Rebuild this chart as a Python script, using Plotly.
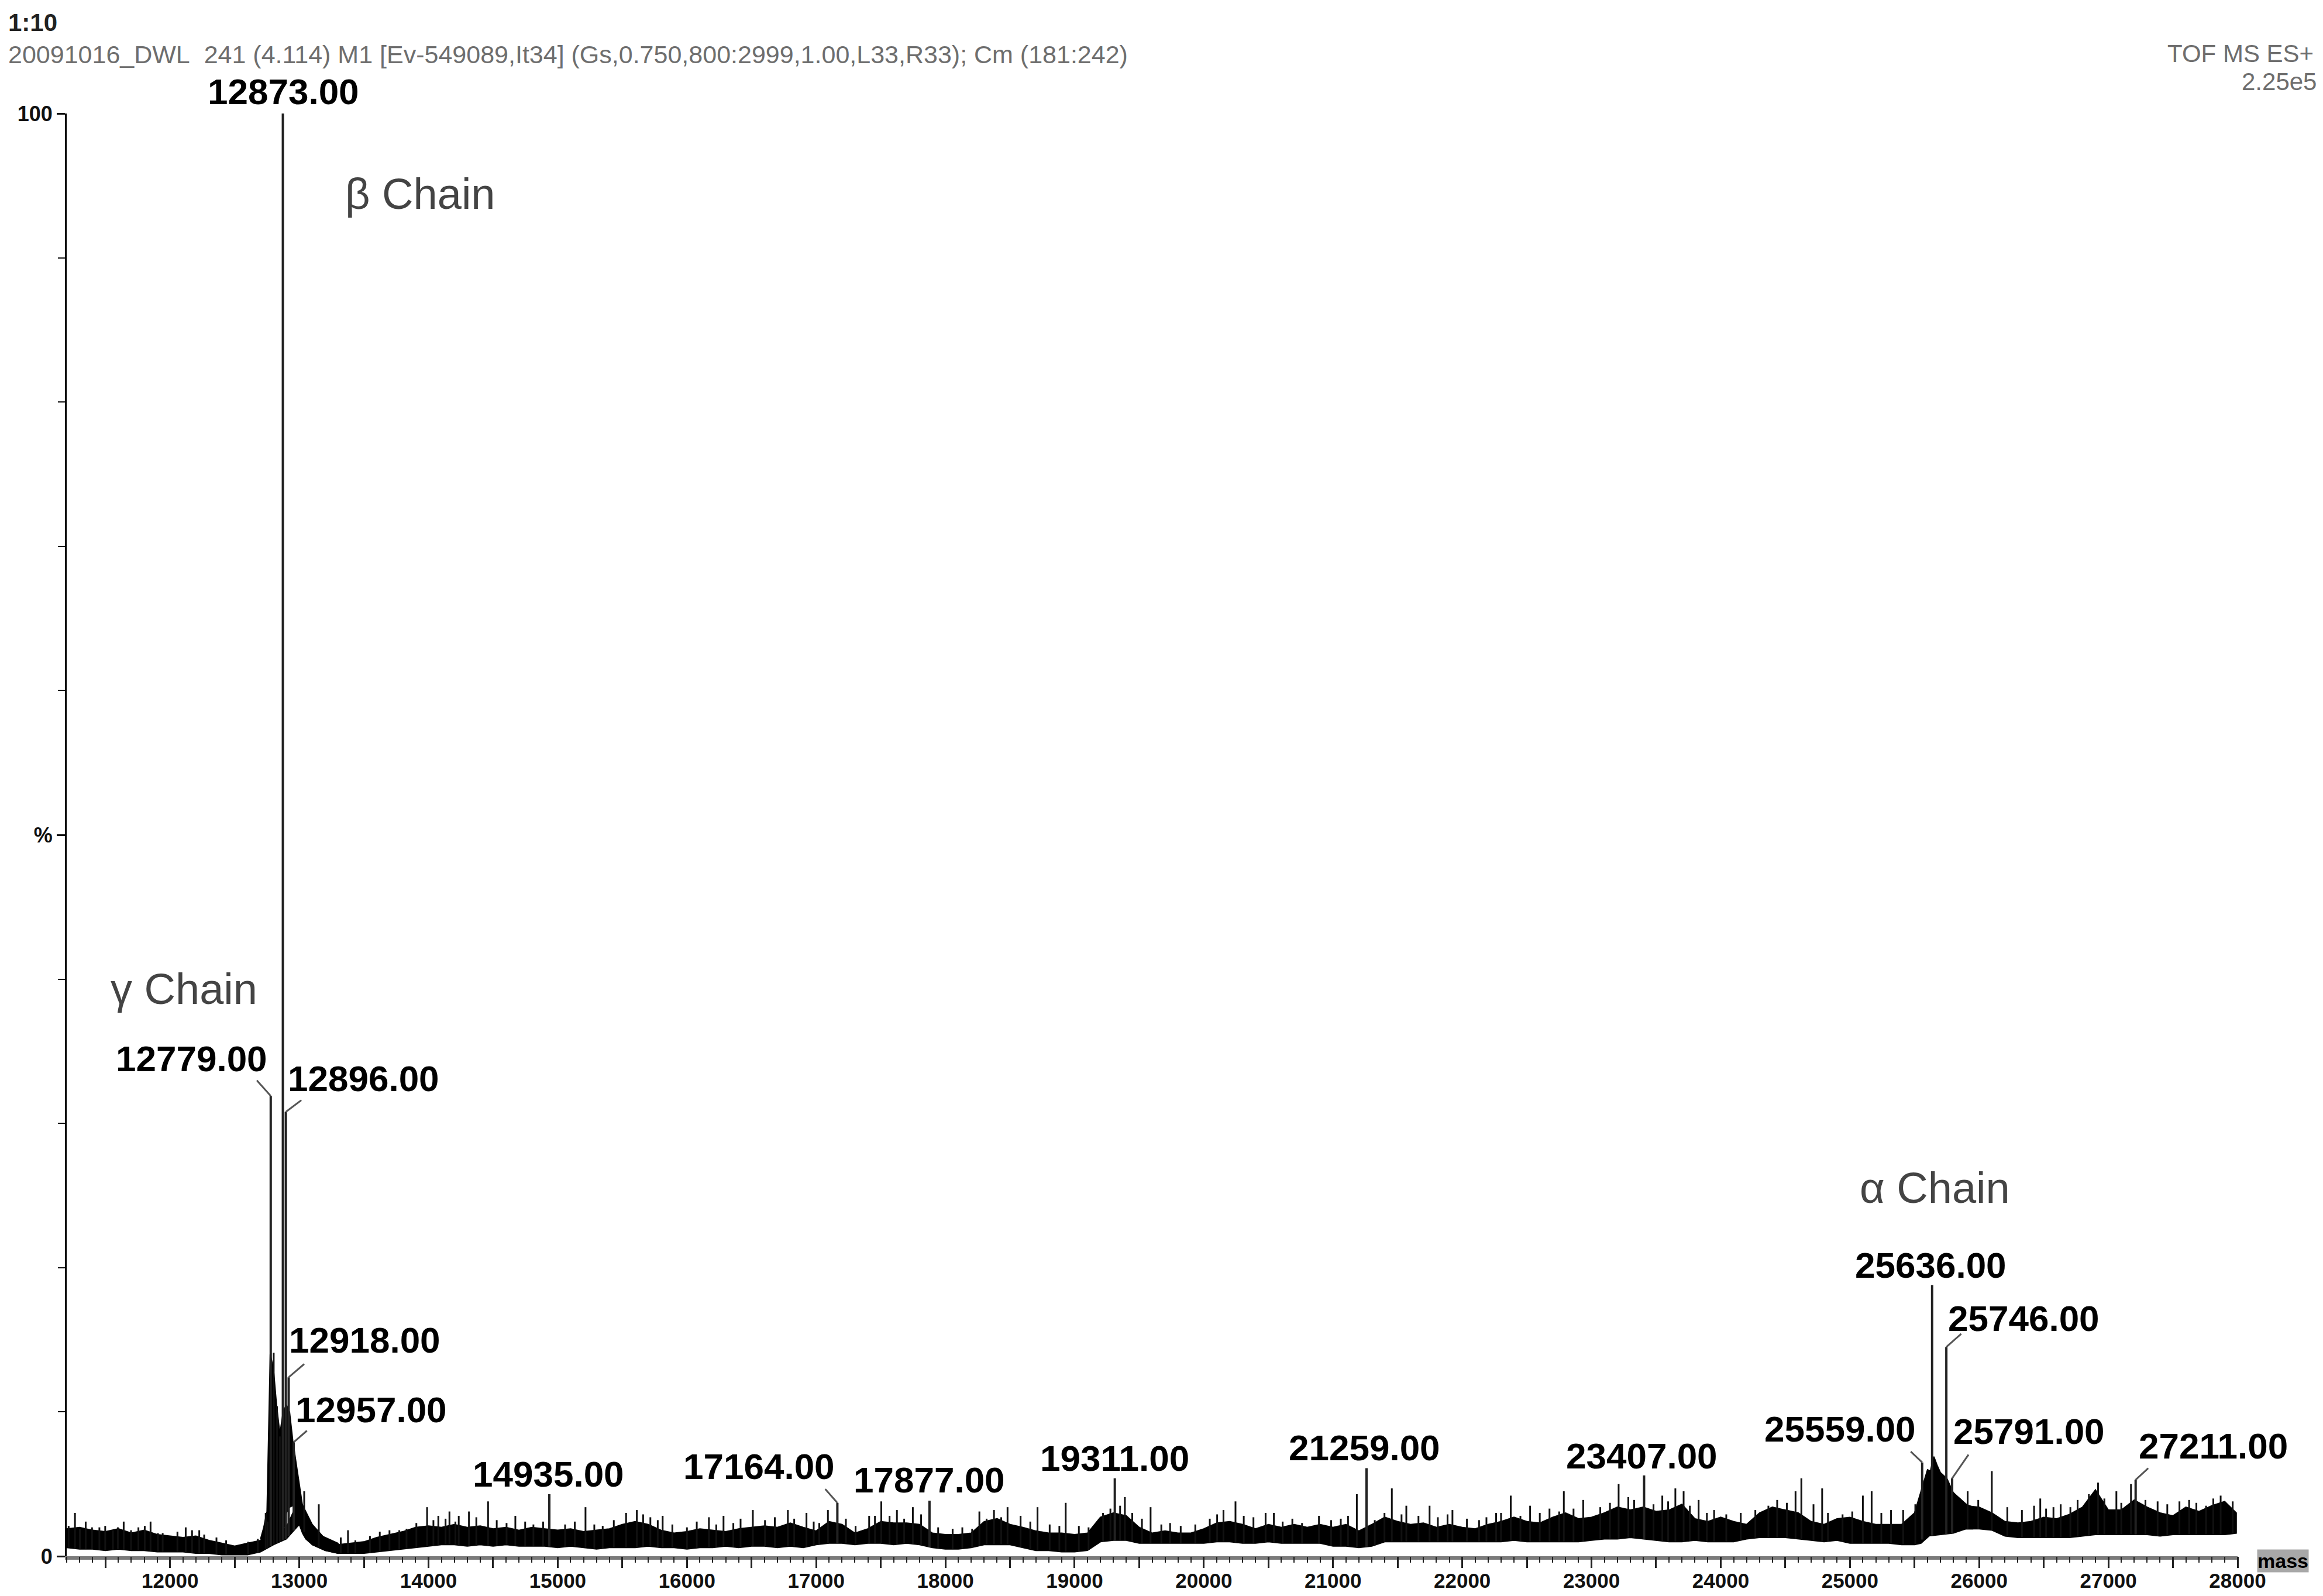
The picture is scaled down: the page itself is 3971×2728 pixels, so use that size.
import numpy as np
import plotly.graph_objects as go

# ---------------- data (relative intensity, %) ----------------
# baseline noise envelope sampled every 100 Da (upper / lower edge of the noise band)
grid_mz = list(range(11200, 28000, 100)) + [27990]
noise_hi = [
    1.9, 2.0, 1.8, 1.7, 1.9, 1.6, 1.8, 1.5,
    1.4, 1.3, 1.4, 1.1, 0.9, 0.7, 0.9, 1.1, 1.5, 2.0,
    4.0, 2.2, 1.2, 0.8, 0.9, 1.0, 1.3, 1.5, 1.7, 2.0,
    2.1, 2.0, 2.2, 2.0, 2.1, 1.9, 2.0, 1.8, 2.0, 1.9,
    1.8, 1.9, 1.7, 1.8, 1.9, 2.2, 2.4, 2.2, 1.8, 1.6,
    1.7, 1.9, 1.8, 1.7, 1.9, 2.0, 2.1, 2.0, 2.3, 2.0,
    1.75, 2.4, 2.2, 1.6, 1.9, 2.4, 2.3, 2.3, 2.2, 1.6,
    1.5, 1.5, 1.6, 2.4, 2.6, 2.2, 2.0, 1.75, 1.6, 1.6,
    1.5, 1.6, 2.7, 3.0, 2.8, 2.0, 1.6, 1.75, 1.6, 1.6,
    1.9, 2.3, 2.4, 2.2, 1.9, 2.2, 2.0, 2.2, 2.0, 2.2,
    2.0, 2.2, 1.75, 2.2, 2.7, 2.4, 2.2, 2.3, 2.0, 2.2,
    2.0, 1.9, 2.2, 2.4, 2.7, 2.4, 2.3, 2.7, 3.0, 2.6,
    2.7, 3.0, 3.4, 3.2, 3.4, 3.1, 3.2, 3.6, 2.6, 2.4,
    2.7, 2.4, 2.2, 3.0, 3.4, 3.2, 3.0, 2.4, 2.2, 2.6,
    2.7, 2.4, 2.2, 2.2, 2.2, 3.0, 6.0, 5.6, 4.4, 3.5,
    3.4, 3.0, 2.4, 2.3, 2.4, 2.7, 2.6, 2.9, 3.4, 4.6,
    3.2, 3.2, 3.9, 3.4, 3.0, 2.8, 3.4, 3.1, 3.5, 3.8,
    3.0,
]
noise_lo = [
    0.6, 0.5, 0.5, 0.4, 0.5, 0.4, 0.4, 0.3,
    0.3, 0.3, 0.2, 0.2, 0.1, 0.1, 0.1, 0.3, 0.8, 1.2,
    2.2, 0.8, 0.4, 0.2, 0.2, 0.2, 0.3, 0.4, 0.5, 0.6,
    0.7, 0.8, 0.8, 0.7, 0.8, 0.7, 0.8, 0.7, 0.7, 0.7,
    0.6, 0.7, 0.6, 0.5, 0.6, 0.6, 0.6, 0.7, 0.6, 0.6,
    0.5, 0.6, 0.6, 0.7, 0.6, 0.7, 0.7, 0.6, 0.7, 0.6,
    0.8, 0.9, 0.9, 0.8, 0.9, 0.9, 0.8, 0.9, 0.8, 0.6,
    0.5, 0.5, 0.6, 0.8, 0.8, 0.8, 0.6, 0.4, 0.4, 0.3,
    0.3, 0.4, 1.0, 1.1, 1.1, 0.9, 0.9, 0.9, 0.9, 0.9,
    0.9, 1.0, 1.0, 0.9, 0.9, 1.0, 0.9, 0.9, 0.9, 0.9,
    0.7, 0.7, 0.6, 0.7, 1.0, 1.0, 1.0, 1.0, 1.0, 1.0,
    1.0, 1.0, 1.0, 1.0, 1.1, 1.0, 1.0, 1.0, 1.0, 1.0,
    1.1, 1.2, 1.2, 1.3, 1.2, 1.1, 1.0, 1.0, 1.1, 1.0,
    1.0, 1.0, 1.2, 1.3, 1.3, 1.3, 1.2, 1.1, 1.0, 1.1,
    0.9, 0.9, 0.9, 0.9, 0.8, 0.8, 1.4, 1.5, 1.6, 1.9,
    1.9, 1.8, 1.4, 1.3, 1.3, 1.3, 1.3, 1.3, 1.4, 1.5,
    1.5, 1.5, 1.5, 1.5, 1.4, 1.5, 1.5, 1.5, 1.5, 1.5,
    1.6,
]

# beta / gamma chain cluster envelope
beta_mz = [12700, 12725, 12750, 12765, 12775, 12800, 12825, 12850, 12875, 12900, 12925,
           12950, 12975, 13000, 13025, 13050, 13075, 13100, 13150, 13200, 13250, 13300]
beta_hi = [1.2, 2.0, 3.1, 9.0, 14.0, 13.0, 10.4, 8.5, 10.0, 10.5, 10.0,
           8.0, 6.5, 4.9, 3.5, 2.6, 2.2, 2.0, 1.5, 1.3, 1.1, 0.9]
beta_lo = [0.3, 0.5, 0.8, 1.0, 1.2, 1.3, 1.5, 1.3, 1.5, 3.0, 3.4,
           3.5, 3.0, 2.2, 1.6, 1.2, 1.0, 0.8, 0.6, 0.4, 0.3, 0.2]

# alpha chain cluster envelope
alpha_mz = [25500, 25550, 25575, 25600, 25625, 25650, 25675, 25700, 25725, 25750,
            25775, 25800, 25850, 25900, 25950]
alpha_hi = [3.0, 3.7, 4.5, 5.5, 6.0, 6.9, 6.3, 5.8, 5.6, 5.4, 4.9, 4.4, 4.0, 3.6, 3.4]
alpha_lo = [0.8, 0.9, 1.1, 1.3, 1.5, 1.6, 1.6, 1.5, 1.6, 1.7, 1.8, 1.9, 1.9, 1.9, 1.9]

# prominent isolated noise spikes
spike_mz = [11264, 11347, 11498, 11641, 11755, 11849, 12121, 12226, 12740, 12755, 12802, 12828, 12850,
            13038, 13151, 13377, 13623, 13830, 13989, 14076, 14162, 14234, 14313, 14461,
            14672, 14748, 15215, 15348, 15529, 15612, 15717, 15812, 16170, 16283, 16510,
            16781, 16925, 17091, 17410, 17504, 17625, 17748, 18263, 18376, 18481, 18713,
            18931, 19389, 19588, 19739, 20152, 20245, 20478, 20542, 20891, 21184, 21455,
            21567, 21747, 21924, 22262, 22375, 22525, 22786, 22936, 23210, 23285, 23548,
            23649, 23713, 23829, 23949, 24369, 24579, 24624, 24785, 25100, 25168, 25412,
            25911, 26098, 26218, 26473, 26575, 26849, 26920, 27062, 27175, 27381, 27625,
            27756, 27869]
spike_int = [3.0, 2.4, 2.1, 2.4, 2.0, 2.4, 2.0, 1.8, 3.0, 2.4, 14.1, 10.4, 8.3,
             4.5, 3.6, 1.8, 1.7, 1.9, 3.4, 2.8, 3.1, 2.8, 3.1, 3.8,
             2.8, 2.4, 3.4, 2.1, 3.0, 3.2, 2.7, 2.8, 2.7, 2.8, 3.2,
             3.2, 3.0, 3.2, 2.8, 3.8, 3.2, 3.4, 3.1, 3.2, 3.4, 3.4,
             3.7, 4.1, 3.4, 2.3, 3.2, 3.8, 3.0, 3.0, 2.8, 4.3, 4.7,
             3.5, 3.5, 3.2, 3.0, 4.2, 3.5, 4.5, 3.9, 5.0, 4.1, 4.2,
             4.7, 4.5, 3.9, 3.2, 3.5, 4.5, 5.4, 4.7, 4.2, 4.5, 3.2,
             4.5, 5.9, 3.4, 4.0, 3.4, 4.3, 5.1, 4.5, 5.0, 3.8, 3.9,
             3.5, 4.2]

# smaller noise spikes riding on the band
minor_mz = [11215, 11302, 11396, 11453, 11558, 11596, 11698, 11804, 11906, 11943, 12057,
            12170, 12264, 12359, 12434, 12604, 12679,
            13321, 13434, 13547, 13698, 13774, 13906, 14038, 14132, 14208, 14370, 14528,
            14604, 14812, 14887, 15057, 15132, 15283, 15434, 15661, 15774, 15887, 16000,
            16076, 16227, 16359, 16415, 16604, 16680, 16830, 16981,
            17024, 17230, 17305, 17455, 17568, 17681, 17812, 17944, 18056, 18131, 18207,
            18319, 18432, 18582, 18657, 18807, 18882, 19033, 19108, 19220, 19277, 19352,
            19446, 19521, 19671, 19821, 19934, 20046, 20103, 20309, 20384, 20610, 20685,
            20760, 20985, 21060, 21116, 21323, 21398, 21530, 21661, 21811, 21886, 22036,
            22130, 22187, 22300, 22450, 22600, 22675, 22750,
            22861, 23068, 23143, 23330, 23480, 23593, 23761, 23893, 24043, 24155, 24268,
            24437, 24512, 24718, 24830, 24943, 25018, 25243, 25318, 25506, 25993, 26331,
            26425, 26518, 26631, 26706, 26762, 26969, 27100, 27287, 27456, 27550, 27681,
            27812, 27962]
minor_int = [2.1, 1.9, 2.0, 2.0, 1.8, 2.0, 1.8, 2.1, 1.6, 1.6, 1.7,
             1.8, 1.5, 1.3, 1.1, 1.0, 1.2,
             1.3, 1.1, 1.4, 1.8, 1.8, 2.3, 2.5, 2.6, 2.4, 2.7, 2.5,
             2.3, 2.2, 2.4, 2.2, 2.4, 2.2, 2.5, 2.9, 2.5, 2.2, 2.0,
             2.4, 2.2, 2.3, 2.6, 2.5, 2.7, 2.6, 2.4,
             2.3, 2.6, 2.1, 2.8, 2.8, 2.6, 2.9, 2.0, 1.9, 2.0, 1.9,
             2.6, 2.7, 2.8, 2.4, 2.2, 2.1, 2.1, 2.0, 3.0, 3.3, 3.5,
             3.0, 2.6, 2.2, 2.1, 2.2, 2.6, 2.9, 2.8, 2.7, 2.4, 2.6,
             2.3, 2.5, 2.6, 2.8, 2.5, 3.0, 2.9, 2.8, 2.7, 2.9, 2.6,
             2.5, 2.7, 3.0, 2.8, 3.0, 3.3, 3.1,
             3.3, 3.4, 3.7, 3.9, 3.6, 3.8, 3.5, 3.0, 2.9, 3.0, 3.2,
             3.9, 3.7, 3.6, 3.0, 2.9, 3.1, 3.0, 3.2, 3.6, 3.9, 3.2,
             3.5, 3.3, 3.6, 3.4, 3.9, 4.0, 3.7, 3.9, 3.6, 3.8, 3.7,
             4.0, 3.8]

# labelled peaks
peak_mz = [12779, 12873, 12896, 12918, 12957, 14935, 17164, 17877, 19311, 21259,
           23407, 25559, 25636, 25746, 25791, 27211]
peak_int = [31.9, 100, 30.8, 12.4, 7.9, 4.3, 3.7, 3.85, 5.4, 6.1,
            5.6, 6.5, 18.8, 14.5, 5.4, 5.3]
# label offset from peak top (px) and leader-line tail offset (px)
label_shift = [(-135, 64), (1, 38), (133, 57), (130, 64), (132, 56), (-2, 34), (-134, 62),
               (0, 36), (0, 34), (-3, 35), (-4, 33), (-140, 57), (-2, 34), (132, 49),
               (131, 80), (133, 58)]
leader = [(-25, -28), None, (28, -21), (28, -24), (24, -21), None, (-22, -25),
          None, None, None, None, (-21, -20), None, (27, -24), (29, -42), (23, -21)]

x_labels = list(range(12000, 28001, 1000))
x_ticks = list(range(11500, 28001, 500))
x_range = [11200, 28000]

# ---------------- geometry helpers ----------------
W, H = 3971, 2728
ML, MR, MT, MB = 114, 146, 194, 68
PW, PH = W - ML - MR, H - MT - MB


def px(xp, yp):
    return (xp - ML) / PW, (H - MB - yp) / PH


def band(mz, hi, lo):
    return list(mz) + list(mz)[::-1], list(hi) + list(lo)[::-1]


def sticks(mz, top):
    xs, ys = [], []
    for m, t in zip(mz, top):
        base = float(np.interp(m, grid_mz, noise_lo))
        xs += [m, m, None]
        ys += [base, t, None]
    return xs, ys


fig = go.Figure()
for mz, hi, lo in [(grid_mz, noise_hi, noise_lo), (beta_mz, beta_hi, beta_lo),
                   (alpha_mz, alpha_hi, alpha_lo)]:
    bx, by = band(mz, hi, lo)
    fig.add_trace(go.Scatter(x=bx, y=by, fill='toself', fillcolor='#000000', mode='lines',
                             line=dict(color='#000000', width=2), hoverinfo='skip'))

sx, sy = sticks(list(spike_mz) + list(minor_mz), list(spike_int) + list(minor_int))
fig.add_trace(go.Scatter(x=sx, y=sy, mode='lines', line=dict(color='#111111', width=3),
                         hoverinfo='skip'))
px_, py_ = sticks(peak_mz, peak_int)
fig.add_trace(go.Scatter(x=px_, y=py_, mode='lines', line=dict(color='#222222', width=4),
                         hoverinfo='skip'))
# invisible anchor trace for the tick-mark axis
fig.add_trace(go.Scatter(x=x_range, y=[0, 0], xaxis='x2', mode='markers',
                         marker=dict(opacity=0), hoverinfo='skip'))

lab_font = dict(family='Liberation Sans, Arial, sans-serif', size=62, color='#000000',
                weight='bold')
for m, h, (dx, dy), ld in zip(peak_mz, peak_int, label_shift, leader):
    fig.add_annotation(x=m, y=h, xref='x', yref='y', text=f'{m:.2f}', showarrow=False,
                       xshift=dx, yshift=dy, font=lab_font, xanchor='center',
                       yanchor='middle')
    if ld is not None:
        fig.add_annotation(x=m, y=h, xref='x', yref='y', text='', showarrow=True,
                           ax=ld[0], ay=ld[1], arrowhead=0, arrowwidth=3,
                           arrowcolor='#555555', standoff=0, startstandoff=0)

chain_font = dict(family='Liberation Sans, Arial, sans-serif', size=74, color='#444444')
for txt, (xp, yp) in [('β Chain', (718, 331)), ('γ Chain', (314, 1690)),
                      ('α Chain', (3307, 2030))]:
    X, Y = px(xp, yp)
    fig.add_annotation(x=X, y=Y, xref='paper', yref='paper', text=txt, showarrow=False,
                       font=chain_font, xanchor='center', yanchor='middle')

hdr = [
    ('1:10', 13, 38, 'left', 42, '#222222', 'bold', None),
    ('20091016_DWL  241 (4.114) M1 [Ev-549089,It34] (Gs,0.750,800:2999,1.00,L33,R33); Cm (181:242)',
     13, 93, 'left', 43, '#6e6e6e', 'normal', None),
    ('TOF MS ES+', 3956, 92, 'right', 42, '#6e6e6e', 'normal', None),
    ('2.25e5', 3961, 140, 'right', 42, '#6e6e6e', 'normal', None),
    ('mass', 3902, 2668, 'center', 34, '#000000', 'bold', '#a8a8a8'),
]
for txt, xp, yp, anc, sz, col, wt, bg in hdr:
    X, Y = px(xp, yp)
    fig.add_annotation(x=X, y=Y, xref='paper', yref='paper', text=txt.replace('  ', '&nbsp; '),
                       showarrow=False, xanchor=anc, yanchor='middle', bgcolor=bg,
                       borderpad=0,
                       font=dict(family='Liberation Sans, Arial, sans-serif', size=sz,
                                 color=col, weight=wt))

fig.update_layout(
    width=W, height=H, margin=dict(l=ML, r=MR, t=MT, b=MB, autoexpand=False),
    showlegend=False, plot_bgcolor='white', paper_bgcolor='white',
    xaxis=dict(range=x_range, showgrid=False, zeroline=False, showline=True,
               automargin=False,
               linecolor='#7a7a7a', linewidth=6, ticks='outside', tickmode='array',
               tickvals=x_labels, ticktext=[str(v) for v in x_labels],
               ticklen=6, tickwidth=3, tickcolor='#222222',
               tickfont=dict(family='Liberation Sans, Arial, sans-serif', size=35,
                             color='#111111', weight='bold')),
    xaxis2=dict(range=x_range, overlaying='x', anchor='y', side='bottom', showgrid=False,
                zeroline=False, showline=False, automargin=False, showticklabels=False,
                ticks='outside', tickmode='array', tickvals=x_ticks, ticklen=19,
                tickwidth=3, tickcolor='#222222',
                minor=dict(ticks='outside', tick0=0, dtick=100, ticklen=10, tickwidth=2,
                           tickcolor='#222222', showgrid=False)),
    yaxis=dict(range=[0, 100], showgrid=False, zeroline=False, showline=True,
               automargin=False,
               linecolor='#000000', linewidth=3, ticks='outside', tickmode='array',
               tickvals=[0, 50, 100], ticktext=['0', '%', '100'], ticklen=14, tickwidth=3,
               tickcolor='#111111',
               tickfont=dict(family='Liberation Sans, Arial, sans-serif', size=36,
                             color='#111111', weight='bold'),
               minor=dict(ticks='outside', tick0=0, dtick=10, ticklen=12, tickwidth=2,
                          tickcolor='#111111', showgrid=False)),
)

fig.write_html('out.html', config={'displayModeBar': False},
               post_script="document.body.style.margin='0';")
